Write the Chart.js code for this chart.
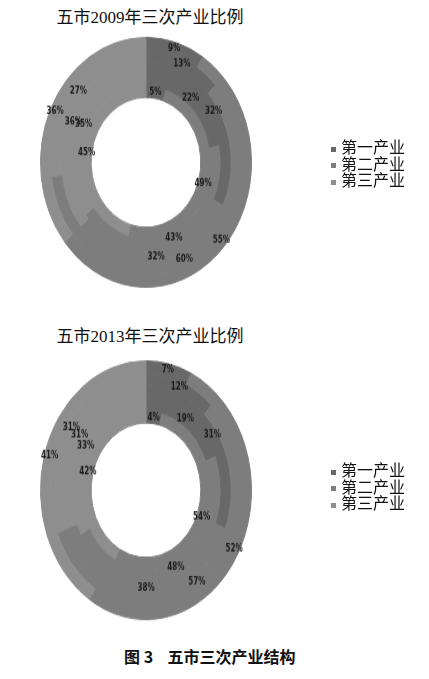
<!DOCTYPE html>
<html>
<head>
<meta charset="utf-8">
<script src="https://cdn.jsdelivr.net/npm/chart.js@4/dist/chart.umd.min.js"></script>
<style>
  body { margin: 0; background: #fff; width: 429px; height: 679px; position: relative; overflow: hidden; }
  .title { position: absolute; left: 0; width: 300px; text-align: center; font-family: "Liberation Serif", "Noto Sans CJK SC", serif; font-size: 17px; color: #111; }
  .wrap { position: absolute; left: 0; width: 429px; height: 230px; transform-origin: 0 0; }
  .legend { position: absolute; left: 331px; font-family: "Liberation Serif", "Noto Sans CJK SC", serif; font-size: 16px; line-height: 16.5px; color: #111; }
  .legend span.box { display: inline-block; width: 5px; height: 5px; margin-right: 5px; vertical-align: middle; }
  .caption { position: absolute; left: 124px; top: 644px; font-family: "Noto Sans CJK SC", sans-serif; font-weight: bold; font-size: 16px; color: #111; white-space: pre; }
</style>
</head>
<body>
<div class="title" style="top:3px">五市2009年三次产业比例</div>
<div class="wrap" id="wrap1"><canvas id="chart2009"></canvas></div>
<div class="legend" id="legend1" style="top:140px"></div>

<div class="title" style="top:322px">五市2013年三次产业比例</div>
<div class="wrap" id="wrap2"><canvas id="chart2013"></canvas></div>
<div class="legend" id="legend2" style="top:463px"></div>

<div class="caption">图 3    五市三次产业结构</div>

<script>
// Industry categories (legend)
const industries = ['第一产业', '第二产业', '第三产业'];
const colors = ['#686868', '#7d7d7d', '#8e8e8e'];

// Rings from outer to inner, values in percent (primary, secondary, tertiary)
const ring2009_1 = [9, 55, 36];
const ring2009_2 = [13, 60, 27];
const ring2009_3 = [32, 32, 36];
const ring2009_4 = [22, 43, 35];
const ring2009_5 = [5, 49, 45];

const ring2013_1 = [7, 52, 41];
const ring2013_2 = [12, 57, 31];
const ring2013_3 = [31, 38, 31];
const ring2013_4 = [19, 48, 33];
const ring2013_5 = [4, 54, 42];

// Draw percentage text at the middle of each arc
const percentLabels = {
    id: 'percentLabels',
    afterDatasetsDraw(chart) {
        const ctx = chart.ctx;
        ctx.save();
        ctx.font = 'bold 8px "DejaVu Sans Condensed", sans-serif';
        ctx.fillStyle = '#1a1a1a';
        ctx.textAlign = 'center';
        ctx.textBaseline = 'middle';
        chart.data.datasets.forEach((ds, i) => {
            const meta = chart.getDatasetMeta(i);
            meta.data.forEach((arc, j) => {
                const p = arc.tooltipPosition();
                ctx.fillText(ds.data[j] + '%', p.x, p.y);
            });
        });
        ctx.restore();
    }
};

function makeRings(id, wrapId, top, scaleY, rings) {
    const wrap = document.getElementById(wrapId);
    wrap.style.top = top + 'px';
    wrap.style.transform = 'scaleY(' + scaleY + ')';
    new Chart(document.getElementById(id), {
        type: 'doughnut',
        data: {
            labels: industries,
            datasets: rings.map(r => ({
                data: r,
                backgroundColor: colors,
                borderColor: colors,  // same colour as fill, hides seams between rings
                borderWidth: 1
            }))
        },
        options: {
            responsive: true,
            maintainAspectRatio: false,
            animation: false,
            cutout: '52%',
            layout: { padding: { left: 40, right: 177, top: 10, bottom: 8 } },
            plugins: {
                legend: { display: false },
                tooltip: { enabled: false }
            }
        },
        plugins: [percentLabels]
    });
}

function makeLegend(id) {
    const el = document.getElementById(id);
    industries.forEach((name, i) => {
        const row = document.createElement('div');
        row.innerHTML = '<span class="box" style="background:' + colors[i] + '"></span>' + name;
        el.appendChild(row);
    });
}

makeRings('chart2009', 'wrap1', 25, 1.184, [ring2009_1, ring2009_2, ring2009_3, ring2009_4, ring2009_5]);
makeRings('chart2013', 'wrap2', 348, 1.226, [ring2013_1, ring2013_2, ring2013_3, ring2013_4, ring2013_5]);
makeLegend('legend1');
makeLegend('legend2');
</script>
</body>
</html>
